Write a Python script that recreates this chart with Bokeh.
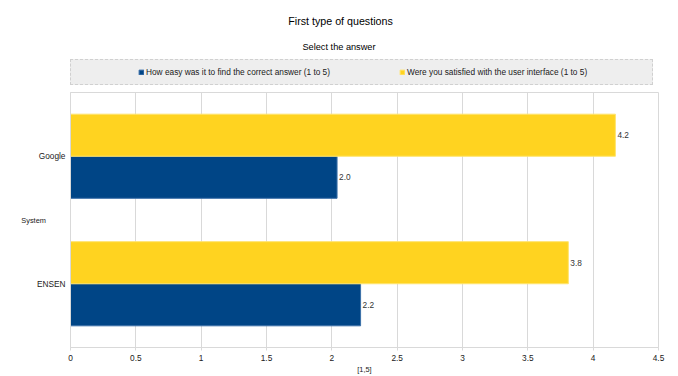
from bokeh.plotting import figure
from bokeh.layouts import column
from bokeh.models import (FactorRange, Range1d, Legend, LegendItem, Label,
                          ColumnDataSource, FixedTicker, NumeralTickFormatter)
from bokeh.transform import dodge
from bokeh.embed import file_html
from bokeh.resources import INLINE
from bokeh.core.properties import value

# ---- data ----
systems = ["ENSEN", "Google"]            # listed bottom -> top
easy_scores = [2.22, 2.04]               # How easy was it to find the correct answer
satisfied_scores = [3.81, 4.17]          # Were you satisfied with the user interface
series_names = ["How easy was it to find the correct answer (1 to 5)",
                "Were you satisfied with the user interface (1 to 5)"]
x_ticks = [0, 0.5, 1, 1.5, 2, 2.5, 3, 3.5, 4, 4.5]
title_text = "First type of questions"
subtitle_text = "Select the answer"
y_label_text = "System"
x_label_text = "[1,5]"

BLUE = "#004586"
BLUE_EDGE = "#3b6fa8"
YELLOW = "#ffd320"
YELLOW_EDGE = "#ffe46e"
FONT = "Liberation Sans"
TXT = "#1a1a1a"
GRID = "#d9d9d9"

W = 678
HEAD_H = 88
MAIN_H = 288

src = ColumnDataSource(dict(
    system=systems,
    easy=easy_scores,
    satisfied=satisfied_scores,
    easy_lbl=[f"{v:.1f}" for v in easy_scores],
    sat_lbl=[f"{v:.1f}" for v in satisfied_scores],
))

# ---------------- header: titles + legend ----------------
head = figure(width=W, height=HEAD_H, x_range=Range1d(0, 1), y_range=Range1d(0, 1),
              x_axis_type=None, y_axis_type=None, min_border=0,
              output_backend="svg", toolbar_location=None)
head.outline_line_color = None
head.background_fill_color = "white"
head.border_fill_color = "white"
head.xgrid.visible = False
head.ygrid.visible = False

# legend swatch renderers: they only carry the series styles and lie outside the
# header's visible range, so nothing but the legend swatches is shown
sw_easy = head.hbar(y=[-1], left=[0], right=[1], height=0.1,
                    fill_color=BLUE, line_color=BLUE_EDGE)
sw_sat = head.hbar(y=[-1], left=[0], right=[1], height=0.1,
                   fill_color=YELLOW, line_color=YELLOW_EDGE)

legend = Legend(items=[LegendItem(label=series_names[0], renderers=[sw_easy]),
                       LegendItem(label=series_names[1], renderers=[sw_sat])],
                orientation="horizontal", location=(0, 3),
                title=" ", title_location="left", title_standoff=51,
                title_text_font_size="8px",
                background_fill_color="#eeeeee", background_fill_alpha=1,
                border_line_color="#b3b3b3", border_line_dash="1 1", border_line_width=1,
                padding=7, margin=0, spacing=15, label_width=238,
                glyph_width=6, glyph_height=6, label_standoff=2, label_height=10,
                label_text_font=FONT, label_text_font_size="8.3px", label_text_color=TXT)
head.add_layout(legend)

def add_text(fig, txt, x, y, size):
    fig.add_layout(Label(x=x, y=y, x_units="screen", y_units="screen", text=txt,
                         text_align="center", text_baseline="middle",
                         text_font=FONT, text_font_size=size, text_color="#000000"))

# header frame is aligned with the chart frame (starts at x = 70)
add_text(head, title_text, 270, HEAD_H - 20.5, "10.7px")
add_text(head, subtitle_text, 268.5, HEAD_H - 46, "9.2px")

# ---------------- main chart ----------------
p = figure(width=W, height=MAIN_H, title=None,
           y_range=FactorRange(factors=systems, range_padding=0),
           x_range=Range1d(0, 4.5),
           output_backend="svg", toolbar_location=None,
           min_border_left=70, min_border_right=20, min_border_top=4, min_border_bottom=27)

bar_h = 0.33
r_easy = p.hbar(y=dodge("system", -bar_h / 2, range=p.y_range), left=0, right="easy",
                height=bar_h, source=src, fill_color=BLUE, line_color=BLUE_EDGE, line_width=1)
r_sat = p.hbar(y=dodge("system", bar_h / 2, range=p.y_range), left=0, right="satisfied",
               height=bar_h, source=src, fill_color=YELLOW, line_color=YELLOW_EDGE, line_width=1)

p.text(x="easy", y=dodge("system", -bar_h / 2, range=p.y_range), text="easy_lbl", source=src,
       x_offset=2, text_baseline="middle", text_font_size="8.3px", text_font=value(FONT),
       text_color="#333333")
p.text(x="satisfied", y=dodge("system", bar_h / 2, range=p.y_range), text="sat_lbl", source=src,
       x_offset=2, text_baseline="middle", text_font_size="8.3px", text_font=value(FONT),
       text_color="#333333")

p.xaxis.ticker = FixedTicker(ticks=x_ticks)
p.xaxis.formatter = NumeralTickFormatter(format="0.[0]")
p.xaxis.minor_tick_line_color = None
p.xaxis.major_tick_in = 0
p.xaxis.major_tick_out = 3
p.xaxis.major_label_standoff = 4
p.xaxis.axis_label = x_label_text
p.xaxis.axis_label_standoff = 1
p.yaxis.axis_label = y_label_text
p.yaxis.axis_label_orientation = "horizontal"
p.yaxis.axis_label_standoff = -12
for ax in (p.xaxis, p.yaxis):
    ax.axis_line_color = GRID
    ax.major_tick_line_color = GRID
    ax.major_label_text_font = FONT
    ax.major_label_text_font_size = "8.3px"
    ax.major_label_text_color = TXT
    ax.axis_label_text_font = FONT
    ax.axis_label_text_font_size = "7.4px"
    ax.axis_label_text_font_style = "normal"
    ax.axis_label_text_color = TXT
p.yaxis.major_tick_in = 0
p.yaxis.major_tick_out = 0
p.yaxis.major_label_standoff = 5

p.xgrid.grid_line_color = GRID
p.ygrid.grid_line_color = None
p.outline_line_color = GRID
p.background_fill_color = "white"
p.border_fill_color = "white"

page = column(head, p, spacing=0)
open("out.html", "w").write(file_html(page, INLINE))
